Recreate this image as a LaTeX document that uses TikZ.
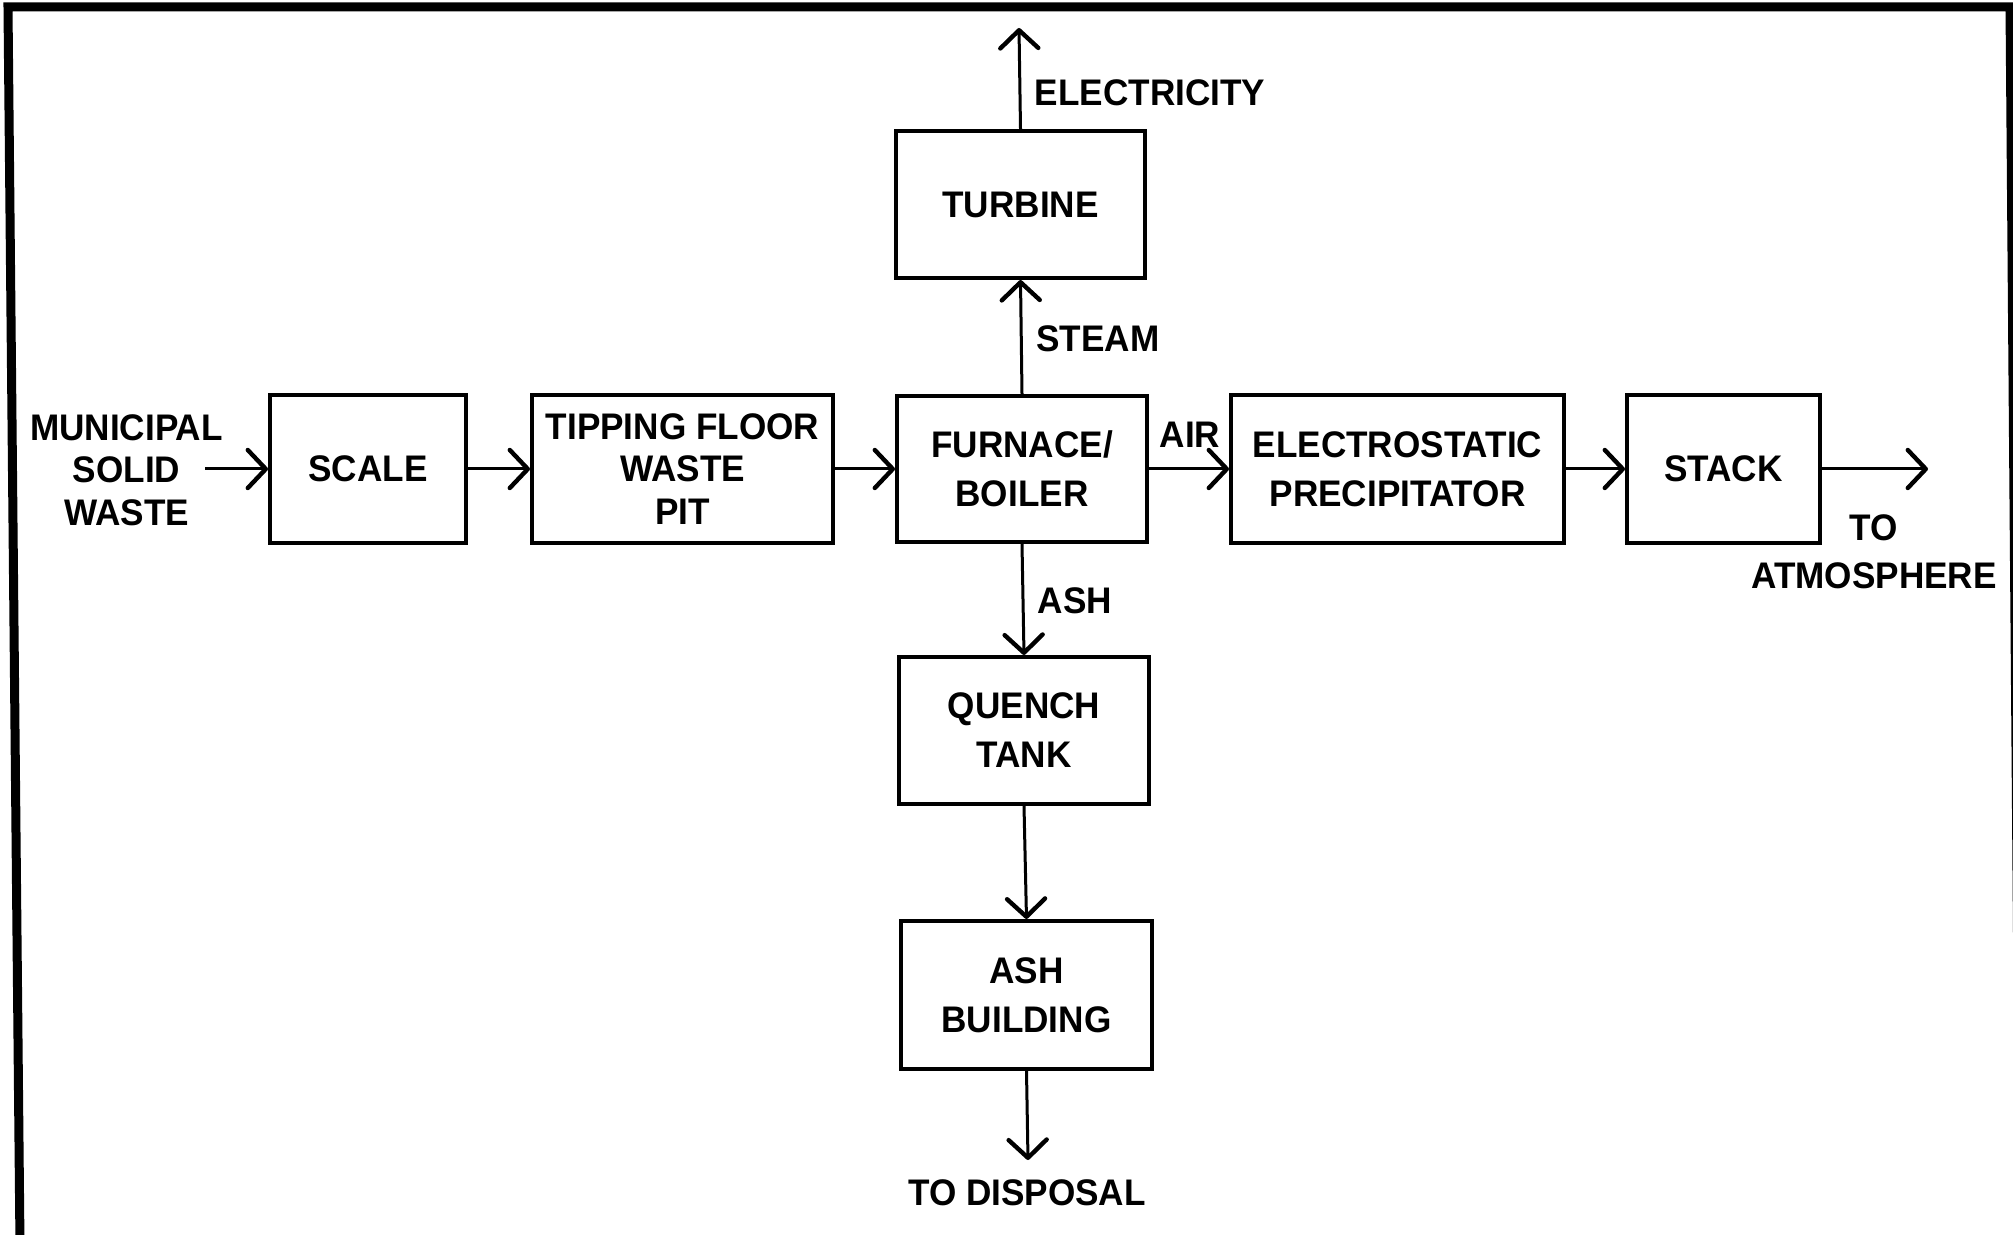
\documentclass[tikz,border=0pt]{standalone}
\usepackage{fontspec}
\setmainfont{Liberation Sans}[FakeStretch=0.95]
\usetikzlibrary{arrows.meta}
\tikzset{
  box/.style={draw, line width=2pt, inner sep=0pt, align=center,
    font=\bfseries\fontsize{18.5}{24.5}\selectfont},
  boxthree/.style={box, font=\bfseries\fontsize{18.5}{21.25}\selectfont},
  lbl/.style={inner sep=0pt, align=center, font=\bfseries\fontsize{18.5}{24}\selectfont},
  flow/.style={line width=1.5pt, -{Straight Barb[length=9pt,width=19pt,line width=2.2pt,round]}},
  frame/.style={line width=4.5pt}
}
\begin{document}
\begin{tikzpicture}[x=0.5pt,y=-0.5pt]
\useasboundingbox (0,0) rectangle (2013,1235);
\fill[white] (0,0) rectangle (2013,1235);
% frame
\draw[frame] (20,1245) -- (8,7) -- (2010,7) -- (2020,1245);

% boxes
\node[box, minimum width=98pt, minimum height=73.5pt] (scale) at (368,469) {SCALE};
\node[boxthree, minimum width=150.5pt, minimum height=74pt] (tip) at (682.5,469) {TIPPING FLOOR\\WASTE\\PIT};
\node[box, minimum width=125pt, minimum height=73pt] (furn) at (1022,469) {FURNACE/\\BOILER};
\node[box, minimum width=166.5pt, minimum height=73.5pt] (esp) at (1397.5,469) {ELECTROSTATIC\\PRECIPITATOR};
\node[box, minimum width=96.5pt, minimum height=73.5pt] (stack) at (1723.5,469) {STACK};
\node[box, minimum width=124.5pt, minimum height=73.5pt] (turb) at (1020.5,204.5) {TURBINE};
\node[box, minimum width=125pt, minimum height=73.5pt] (quench) at (1024,730.5) {QUENCH\\TANK};
\node[box, minimum width=125.5pt, minimum height=74pt] (ashb) at (1026.5,995) {ASH\\BUILDING};

% labels
\node[lbl, font=\bfseries\fontsize{18.5}{21.25}\selectfont] (msw) at (126.5,470) {MUNICIPAL\\SOLID\\WASTE};
\node[lbl] (atm) at (1874,552) {TO\\ATMOSPHERE};
\node[lbl] (air) at (1190,435) {AIR};
\node[lbl] (steam) at (1098,339) {STEAM};
\node[lbl] (elec) at (1150,93) {ELECTRICITY};
\node[lbl] (ashl) at (1075,601) {ASH};
\node[lbl] (disp) at (1027,1193) {TO DISPOSAL};

% free ends
\coordinate (mswout) at (205,469);
\coordinate (atmend) at (1928,469);
\coordinate (elecend) at (1019,28);
\coordinate (dispend) at (1028,1160);

% connectors
\draw[flow] (mswout) -- (scale.west);
\draw[flow] (scale.east) -- (tip.west);
\draw[flow] (tip.east) -- (furn.west);
\draw[flow] (furn.east) -- (esp.west);
\draw[flow] (esp.east) -- (stack.west);
\draw[flow] (stack.east) -- (atmend);
\draw[flow] (furn.north) -- (turb.south);
\draw[flow] (turb.north) -- (elecend);
\draw[flow] (furn.south) -- (quench.north);
\draw[flow] (quench.south) -- (ashb.north);
\draw[flow] (ashb.south) -- (dispend);
\end{tikzpicture}
\end{document}
